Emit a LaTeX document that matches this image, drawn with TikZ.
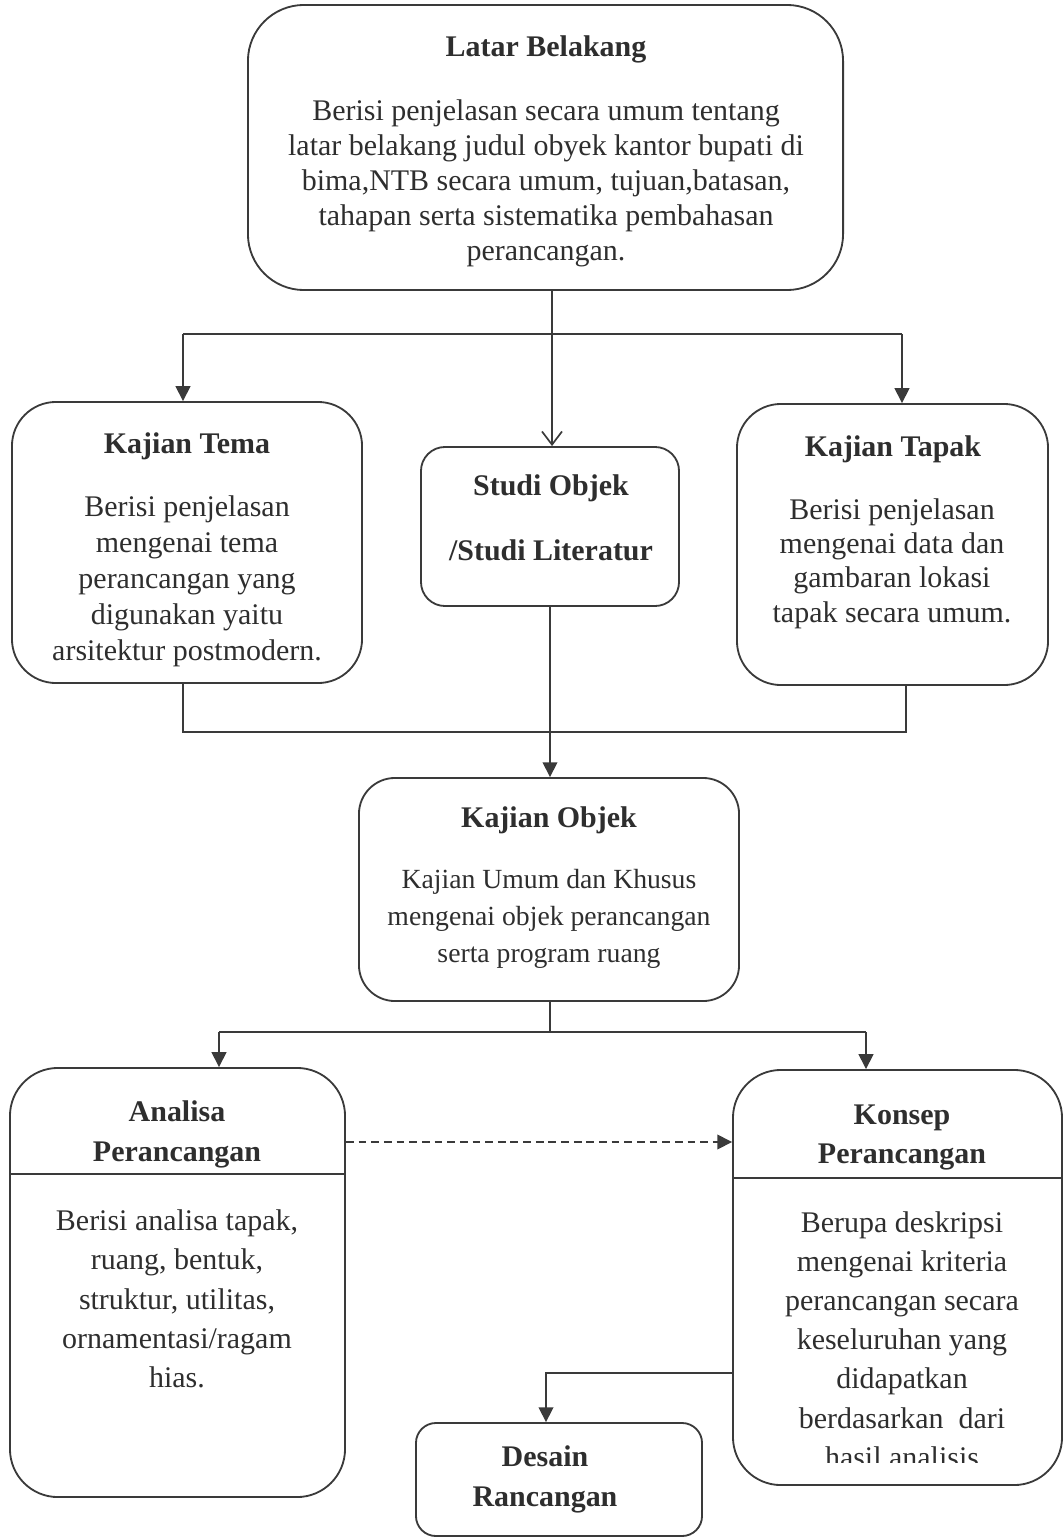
\documentclass[tikz,border=0pt]{standalone}
\usepackage{fontspec}
\setmainfont{Liberation Serif}
\usetikzlibrary{arrows.meta, positioning}
\definecolor{garis}{HTML}{3A3A3A}
\definecolor{tinta}{HTML}{2E2E2E}

\begin{document}
\begin{tikzpicture}[x=0.025cm, y=-0.025cm]
	\tikzset {kotak/.style={draw=garis, line width=1.3pt}, teks/.style={text=tinta, align=center, inner sep=0pt, font=\fontsize{21.3}{25}\selectfont}, judul/.style={teks, font=\fontsize{21.3}{25}\selectfont\bfseries}, hubung/.style={draw=garis, line width=1.1pt}, panah/.style={hubung, -{Triangle[length=0.37cm, width=0.37cm]}}, panahbuka/.style={hubung, -{Straight Barb[length=0.33cm, width=0.5cm, line width=1.2pt]}} }

	\clip (0,0) rectangle (1064,1537);

	% kotak-kotak
	\node[kotak, rounded corners=1.4cm, minimum width=14.875cm, minimum height=7.125cm] (lb) at (545.5,147.5) {};
	\node[kotak, rounded corners=1.1cm, minimum width=8.75cm, minimum height=7.025cm] (kt) at (187,542.5) {};
	\node[kotak, rounded corners=0.6cm, minimum width=6.45cm, minimum height=3.975cm] (so) at (550,526.5) {};
	\node[kotak, rounded corners=1.1cm, minimum width=7.775cm, minimum height=7.025cm] (kp) at (892.5,544.5) {};
	\node[kotak, rounded corners=0.9cm, minimum width=9.5cm, minimum height=5.575cm] (ko) at (549,889.5) {};
	\node[kotak, rounded corners=1.2cm, minimum width=8.375cm, minimum height=10.725cm] (ap) at (177.5,1282.5) {};
	\node[kotak, rounded corners=1.2cm, minimum width=8.225cm, minimum height=10.375cm] (kn) at (897.5,1277.5) {};
	\node[kotak, rounded corners=0.5cm, minimum width=7.15cm, minimum height=2.825cm] (dr) at (559,1479.5) {};

	% isi
	\node[judul] (lb-judul) at (546,49) {Latar Belakang};
	\node[teks, font=\fontsize{21.3}{24.9}\selectfont] (lb-isi) at (546,183) {Berisi penjelasan secara umum tentang\\latar belakang judul obyek kantor bupati di\\bima,NTB secara umum, tujuan,batasan,\\tahapan serta sistematika pembahasan\\perancangan.};

	\node[judul] (kt-judul) at (187,446) {Kajian Tema};
	\node[teks, font=\fontsize{21.3}{25.6}\selectfont] (kt-isi) at (187,581) {Berisi penjelasan\\mengenai tema\\perancangan yang\\digunakan yaitu\\arsitektur postmodern.};

	\node[judul, font=\fontsize{21.3}{46}\selectfont\bfseries] (so-judul) at (551,518) {Studi Objek\\/Studi Literatur};

	\node[judul] (kp-judul) at (893,449) {Kajian Tapak};
	\node[teks, font=\fontsize{21.3}{24.4}\selectfont] (kp-isi) at (892,563.5) {Berisi penjelasan\\mengenai data dan\\gambaran lokasi\\tapak secara umum.};

	\node[judul] (ko-judul) at (549,820) {Kajian Objek};
	\node[teks, font=\fontsize{19.7}{26.3}\selectfont] (ko-isi) at (549,919) {Kajian Umum dan Khusus\\mengenai objek perancangan\\serta program ruang};

	\node[judul, font=\fontsize{21.3}{28.4}\selectfont\bfseries] (ap-judul) at (177,1134) {Analisa\\Perancangan};
	\node[teks, font=\fontsize{21.3}{27.9}\selectfont] (ap-isi) at (177,1299) {Berisi analisa tapak,\\ruang, bentuk,\\struktur, utilitas,\\ornamentasi/ragam\\hias.};

	\node[judul, font=\fontsize{21.3}{28.4}\selectfont\bfseries] (kn-judul) at (902,1137.5) {Konsep\\Perancangan};
	\begin{scope}
		\clip (733,1070) rectangle (1064,1462);
		\node[teks, font=\fontsize{21.3}{27.9}\selectfont] (kn-isi) at (902,1339.5) {Berupa deskripsi\\mengenai kriteria\\perancangan secara\\keseluruhan yang\\didapatkan\\berdasarkan\ \ dari\\hasil analisis};
	\end{scope}

	\node[judul, font=\fontsize{21.3}{28.4}\selectfont\bfseries] (dr-judul) at (545,1479) {Desain\\Rancangan};

	% garis pemisah
	\coordinate (p1) at (0,1174);
	\coordinate (p2) at (0,1178);
	\draw[hubung] (ap.west |- p1) -- (ap.east |- p1);
	\draw[hubung] (kn.west |- p2) -- (kn.east |- p2);

	% penghubung
	\coordinate (c1) at (552,334);
	\coordinate (c1a) at (183,334);
	\coordinate (c1b) at (902,334);
	\draw[hubung] (c1 |- lb.south) -- (c1);
	\draw[hubung] (c1a) -- (c1b);
	\draw[panah] (c1a) -- (c1a |- kt.north);
	\draw[panah] (c1b) -- (c1b |- kp.north);
	\draw[panahbuka] (c1) -- (c1 |- so.north);

	\coordinate (c2a) at (183,732);
	\coordinate (c2b) at (906,732);
	\draw[hubung] (c2a |- kt.south) -- (c2a) -- (c2b) -- (c2b |- kp.south);
	\draw[panah] (so.south) -- (so.south |- ko.north);

	\coordinate (c3) at (550,1032);
	\coordinate (c3a) at (219,1032);
	\coordinate (c3b) at (866,1032);
	\draw[hubung] (c3 |- ko.south) -- (c3);
	\draw[hubung] (c3a) -- (c3b);
	\draw[panah] (c3a) -- (c3a |- ap.north);
	\draw[panah] (c3b) -- (c3b |- kn.north);

	\coordinate (c4) at (0,1142);
	\draw[panah, dash pattern=on 5.5pt off 3.5pt] (ap.east |- c4) -- (kn.west |- c4);

	\coordinate (c5) at (546,1373);
	\draw[panah] (kn.west |- c5) -- (c5) -- (c5 |- dr.north);
\end{tikzpicture}
\end{document}
